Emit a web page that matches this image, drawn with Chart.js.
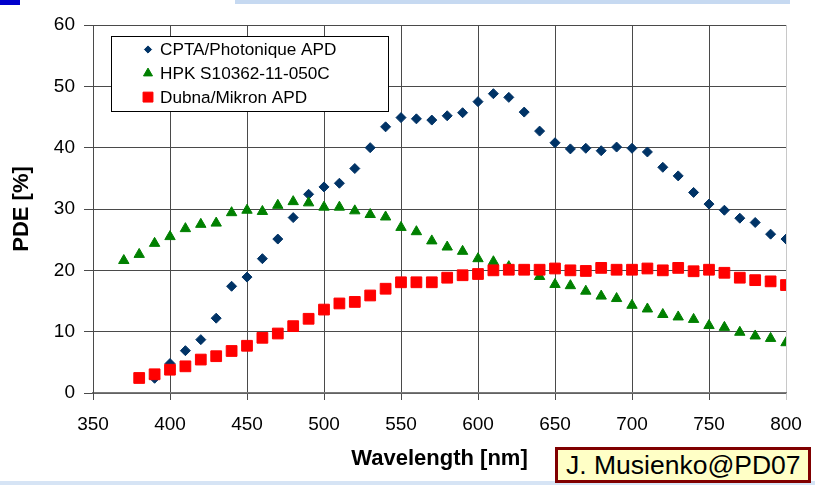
<!DOCTYPE html>
<html lang="en">
  <head>
    <meta charset="UTF-8">
    <script src="https://cdn.jsdelivr.net/npm/chart.js@4.4.1/dist/chart.umd.min.js"></script>
    <style>
      body { margin: 0; background: #fff; }
      .wrap { position: relative; width: 815px; height: 485px; overflow: hidden; }
      .bar-top-left { position: absolute; left: 0; top: 0; width: 20px; height: 5px; background: #0000cc; }
      .bar-top { position: absolute; left: 235px; top: 0; width: 555px; height: 4px; background: #c6d9f1; }
      .bar-bottom { position: absolute; left: 0; bottom: 0; width: 815px; height: 4px; background: #d6e4f5; }
      .credit {
        position: absolute; left: 555px; top: 447px; width: 242px; height: 30px;
        border: 3px solid #800000; background: #ffffc6;
        font-family: 'Liberation Sans', Arial, sans-serif; font-size: 26.5px; line-height: 31px;
        padding-left: 8px; color: #000; white-space: nowrap;
      }
    </style>
  </head>
  <body>
    <div class="wrap">
      <canvas id="pde" width="815" height="485"></canvas>
      <div class="bar-top-left"></div>
      <div class="bar-top"></div>
      <div class="bar-bottom"></div>
      <div class="credit">J. Musienko@PD07</div>
    </div>

    <script>
      // wavelengths (nm) and PDE (%)
      const cptaNm = [390, 400, 410, 420, 430, 440, 450, 460, 470, 480, 490, 500, 510, 520, 530, 540, 550, 560, 570, 580, 590,
                      600, 610, 620, 630, 640, 650, 660, 670, 680, 690, 700, 710, 720, 730, 740, 750, 760, 770, 780, 790, 800];
      const cptaPde = [2.4, 4.8, 6.9, 8.7, 12.2, 17.4, 18.9, 21.9, 25.1, 28.6, 32.4, 33.6, 34.2, 36.6, 40.0, 43.4, 44.9, 44.7, 44.5, 45.2, 45.7,
                       47.5, 48.8, 48.2, 45.8, 42.7, 40.8, 39.8, 39.9, 39.5, 40.1, 39.9, 39.3, 36.8, 35.4, 32.7, 30.8, 29.8, 28.5, 27.8, 25.9, 25.1];

      const hpkNm = [370, 380, 390, 400, 410, 420, 430, 440, 450, 460, 470, 480, 490, 500, 510, 520, 530, 540, 550, 560, 570, 580,
                     590, 600, 610, 620, 630, 640, 650, 660, 670, 680, 690, 700, 710, 720, 730, 740, 750, 760, 770, 780, 790, 800];
      const hpkPde = [21.6, 22.6, 24.4, 25.5, 26.8, 27.5, 27.7, 29.4, 29.8, 29.6, 30.6, 31.2, 31.0, 30.3, 30.3, 29.7, 29.1, 28.7, 27.0, 26.3, 24.8, 23.8,
                      23.1, 21.9, 21.4, 20.6, 19.9, 19.0, 17.7, 17.5, 16.6, 15.8, 15.4, 14.3, 13.7, 12.8, 12.4, 12.0, 11.0, 10.7, 9.9, 9.3, 8.9, 8.2];

      const dubnaNm = [380, 390, 400, 410, 420, 430, 440, 450, 460, 470, 480, 490, 500, 510, 520, 530, 540, 550, 560, 570, 580, 590,
                       600, 610, 620, 630, 640, 650, 660, 670, 680, 690, 700, 710, 720, 730, 740, 750, 760, 770, 780, 790, 800];
      const dubnaPde = [2.45, 3.05, 3.8, 4.35, 5.45, 6.0, 6.85, 7.7, 9.0, 9.7, 10.9, 12.1, 13.6, 14.6, 14.85, 15.9, 17.0, 18.05, 18.05, 18.05, 18.8, 19.2,
                        19.4, 20.0, 20.1, 20.1, 20.1, 20.3, 20.0, 19.9, 20.4, 20.1, 20.1, 20.3, 20.0, 20.4, 19.85, 20.1, 19.6, 18.8, 18.4, 18.2, 17.6];

      const seriesNames = ['CPTA/Photonique APD', 'HPK S10362-11-050C', 'Dubna/Mikron APD'];
      const xTicks = [350, 400, 450, 500, 550, 600, 650, 700, 750, 800];
      const yTicks = [0, 10, 20, 30, 40, 50, 60];

      const FONT = "'Liberation Sans', Arial, sans-serif";
      const pairs = (xs, ys) => xs.map((x, i) => ({ x: x, y: ys[i] }));

      // legend box drawn inside the plot, like the Excel one
      const legendBox = {
        id: 'legendBox',
        afterDraw(chart) {
          const ctx = chart.ctx;
          ctx.save();
          ctx.fillStyle = '#fff';
          ctx.fillRect(111, 36, 277, 75);
          ctx.strokeStyle = '#000';
          ctx.lineWidth = 1;
          ctx.strokeRect(111.5, 36.5, 277, 75);
          const sizes = [3.6, 5.2, 7];
          chart.data.datasets.forEach((ds, i) => {
            const y = 49.5 + i * 23.8;
            ctx.fillStyle = ds.backgroundColor;
            ctx.strokeStyle = ds.borderColor;
            Chart.helpers.drawPoint(ctx, { pointStyle: ds.pointStyle, radius: sizes[i], borderWidth: 1, rotation: 0 }, 148, y);
            ctx.fillStyle = '#000';
            ctx.font = '17.2px ' + FONT;
            ctx.textBaseline = 'middle';
            ctx.fillText(ds.label, 160, y + 1);
          });
          ctx.restore();
        }
      };

      const ctx = document.getElementById('pde').getContext('2d');
      new Chart(ctx, {
        type: 'scatter',
        data: {
          datasets: [
            {
              label: seriesNames[0],
              data: pairs(cptaNm, cptaPde),
              pointStyle: 'rectRot',
              pointRadius: 5,
              backgroundColor: '#003366',
              borderColor: '#003366',
              borderWidth: 1,
              order: 2
            },
            {
              label: seriesNames[1],
              data: pairs(hpkNm, hpkPde),
              pointStyle: 'triangle',
              pointRadius: 6,
              backgroundColor: '#008000',
              borderColor: '#008000',
              borderWidth: 1,
              order: 1
            },
            {
              label: seriesNames[2],
              data: pairs(dubnaNm, dubnaPde),
              pointStyle: 'rect',
              pointRadius: 7.6,
              backgroundColor: '#ff0000',
              borderColor: '#ff0000',
              borderWidth: 1,
              order: 0
            }
          ]
        },
        options: {
          responsive: false,
          animation: false,
          events: [],
          layout: { padding: { left: 0, top: 25, right: 29, bottom: 0 } },
          plugins: {
            legend: { display: false },
            tooltip: { enabled: false }
          },
          scales: {
            x: {
              type: 'linear',
              min: 350,
              max: 800,
              afterBuildTicks: (axis) => { axis.ticks = xTicks.map(v => ({ value: v })); },
              afterFit: (axis) => { axis.height = 92; },
              ticks: { color: '#000', font: { family: FONT, size: 19 }, padding: 13 },
              grid: {
                color: (c) => c.tick && c.tick.value === 800 ? '#c8c8c8' : '#4a4a4a',
                lineWidth: 1,
                tickLength: 7,
                drawTicks: true
              },
              border: { color: '#7a7a7a', width: 1.5 },
              title: {
                display: true,
                text: 'Wavelength [nm]',
                color: '#000',
                font: { family: FONT, size: 22, weight: 'bold' },
                padding: { top: 0, bottom: 13 }
              }
            },
            y: {
              min: 0,
              max: 60,
              afterBuildTicks: (axis) => { axis.ticks = yTicks.map(v => ({ value: v })); },
              afterFit: (axis) => { axis.width = 93; },
              ticks: { color: '#000', font: { family: FONT, size: 19 }, padding: 9 },
              grid: { color: '#4a4a4a', lineWidth: 1, tickLength: 9 },
              border: { color: '#4a4a4a', width: 1 },
              title: {
                display: true,
                text: 'PDE [%]',
                color: '#000',
                font: { family: FONT, size: 22, weight: 'bold' },
                padding: { top: 9, bottom: 0 }
              }
            }
          }
        },
        plugins: [legendBox]
      });
    </script>
  </body>
</html>
